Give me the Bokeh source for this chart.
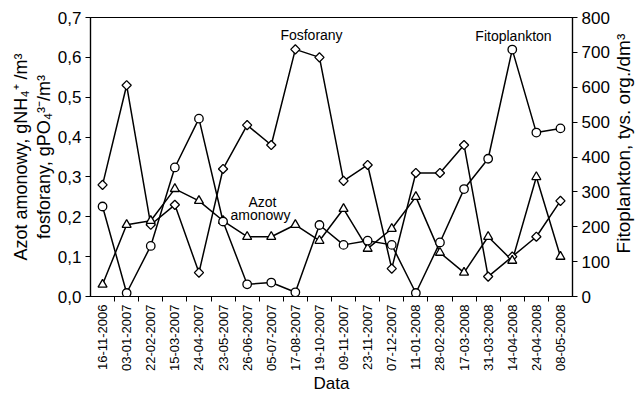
import numpy as np
from bokeh.plotting import figure
from bokeh.layouts import row
from bokeh.core.properties import value
from bokeh.models import (Range1d, LinearAxis, FixedTicker, CustomJSTickFormatter,
                          Label, ColumnDataSource)
from bokeh.embed import file_html
from bokeh.resources import INLINE

# Sampling dates
dates = ["16-11-2006", "03-01-2007", "22-02-2007", "15-03-2007", "24-04-2007",
         "23-05-2007", "26-06-2007", "05-07-2007", "17-08-2007", "19-10-2007",
         "09-11-2007", "23-11-2007", "07-12-2007", "11-01-2008", "28-02-2008",
         "17-03-2008", "31-03-2008", "14-04-2008", "24-04-2008", "08-05-2008"]

# Phosphates, g PO4/m3 (left axis)
fosforany = [0.28, 0.53, 0.18, 0.23, 0.06, 0.32, 0.43, 0.38, 0.62, 0.60,
             0.29, 0.33, 0.07, 0.31, 0.31, 0.38, 0.05, 0.10, 0.15, 0.24]

# Ammonium nitrogen, g NH4/m3 (left axis)
azot = [0.03, 0.18, 0.19, 0.27, 0.24, 0.19, 0.15, 0.15, 0.18, 0.14,
        0.22, 0.12, 0.17, 0.25, 0.11, 0.06, 0.15, 0.09, 0.30, 0.10]

# Phytoplankton, thousand org./dm3 (right axis)
fito = [258, 10, 145, 370, 510, 215, 35, 40, 12, 205,
        148, 160, 148, 10, 155, 308, 395, 708, 470, 482]

left_ticks = [0.0, 0.1, 0.2, 0.3, 0.4, 0.5, 0.6, 0.7]
right_ticks = [0, 100, 200, 300, 400, 500, 600, 700, 800]
right_title = "Fitoplankton, tys. org./dm³"

FONT = "Liberation Sans"
W, H = 642, 396
STRIP_W = 30                      # narrow strip holding the right-hand title
MAIN_W = W - STRIP_W
B_LEFT, B_RIGHT, B_TOP, B_BOTTOM = 90, 40, 17, 100
n = len(dates)
idx = list(range(n))

src = ColumnDataSource(dict(x=idx, fos=fosforany, azot=azot, fito=fito))

p = figure(width=MAIN_W, height=H, output_backend="svg", toolbar_location=None,
           x_range=Range1d(-0.5, n - 0.5), y_range=Range1d(0, 0.7),
           min_border_left=B_LEFT, min_border_right=B_RIGHT,
           min_border_top=B_TOP, min_border_bottom=B_BOTTOM)
p.extra_y_ranges = {"fito": Range1d(0, 800)}
p.xgrid.visible = False
p.ygrid.visible = False
p.outline_line_color = "black"
p.outline_line_width = 1.2
p.background_fill_color = "white"
p.border_fill_color = "white"

# x axis: dates at the points, short ticks between them
xa = p.xaxis[0]
xa.ticker = FixedTicker(ticks=idx, minor_ticks=[i + 0.5 for i in range(n - 1)])
xa.major_label_overrides = {i: d for i, d in enumerate(dates)}
xa.major_label_orientation = np.pi / 2
xa.major_tick_out = 0
xa.major_tick_in = 0
xa.minor_tick_out = 5
xa.minor_tick_in = 0
xa.minor_tick_line_color = "black"
xa.major_label_standoff = 3
xa.major_label_text_font = FONT
xa.major_label_text_font_size = "13px"
xa.major_label_text_color = "black"
xa.axis_label = "Data"
xa.axis_label_text_font = FONT
xa.axis_label_text_font_size = "17px"
xa.axis_label_text_font_style = "normal"
xa.axis_label_text_color = "black"
xa.axis_label_standoff = 0
xa.axis_line_color = "black"
xa.axis_line_width = 1.2

# left axis with comma decimals
ya = p.yaxis[0]
ya.ticker = FixedTicker(ticks=left_ticks)
ya.formatter = CustomJSTickFormatter(code="return tick.toFixed(1).replace('.', ',');")
ya.axis_label = "fosforany, gPO₄³⁻/m³"
ya.axis_label_standoff = 1

# second line of the left title, on a bare outer axis
ya2 = LinearAxis(ticker=FixedTicker(ticks=[]), axis_line_color=None,
                 major_tick_line_color=None, minor_tick_line_color=None,
                 axis_label="Azot amonowy, gNH₄⁺ /m³", axis_label_standoff=0)
p.add_layout(ya2, "left")

# right axis for phytoplankton (its title sits in the strip beside the plot)
ra = LinearAxis(y_range_name="fito", ticker=FixedTicker(ticks=right_ticks))
p.add_layout(ra, "right")

for ax in (ya, ra):
    ax.major_tick_out = 5
    ax.major_tick_in = 0
    ax.minor_tick_line_color = None
    ax.major_label_standoff = 4
    ax.major_label_text_font = FONT
    ax.major_label_text_font_size = "17px"
    ax.major_label_text_color = "black"
    ax.axis_line_color = "black"
    ax.axis_line_width = 1.2
    ax.major_tick_line_color = "black"

for ax in (ya, ya2):
    ax.axis_label_text_font = FONT
    ax.axis_label_text_font_size = "18px"
    ax.axis_label_text_font_style = "normal"
    ax.axis_label_text_color = "black"


# helpers converting canvas pixels to data coordinates of the main ranges
def px_x(sx):
    return -0.5 + (sx - B_LEFT) * n / (MAIN_W - B_LEFT - B_RIGHT)


def px_y(sy):
    return 0.7 * (H - B_BOTTOM - sy) / (H - B_TOP - B_BOTTOM)


# series lines
lw = 1.5
p.line("x", "fos", source=src, line_color="black", line_width=lw)
p.line("x", "azot", source=src, line_color="black", line_width=lw)
p.line("x", "fito", source=src, y_range_name="fito", line_color="black", line_width=lw)

# open markers
p.scatter("x", "fos", source=src, marker="square", angle=np.pi / 4, size=6.5,
          fill_color="white", line_color="black", line_width=1.3)
p.scatter("x", "azot", source=src, marker="triangle", size=9,
          fill_color="white", line_color="black", line_width=1.3)
p.scatter("x", "fito", source=src, y_range_name="fito", marker="circle", size=8.5,
          fill_color="white", line_color="black", line_width=1.3)

# series names inside the plot
name_kw = dict(text_align="center", text_baseline="middle", text_font=FONT,
               text_font_size="14px", text_color="black")
p.add_layout(Label(x=px_x(311), y=px_y(34), text="Fosforany", **name_kw))
p.add_layout(Label(x=px_x(513), y=px_y(35), text="Fitoplankton", **name_kw))
p.add_layout(Label(x=px_x(262), y=px_y(201), text="Azot", **name_kw))
p.add_layout(Label(x=px_x(260), y=px_y(214), text="amonowy", **name_kw))

# strip with the right-hand axis title, reading upwards; pixel coordinates
strip = figure(width=STRIP_W, height=H, output_backend="svg", toolbar_location=None,
               x_range=Range1d(0, STRIP_W), y_range=Range1d(H, 0),
               x_axis_location=None, y_axis_location=None, min_border=0)
strip.xgrid.visible = False
strip.ygrid.visible = False
strip.outline_line_color = None
strip.background_fill_color = "white"
strip.border_fill_color = "white"
strip.text(x=[11], y=[179], text=[right_title], angle=np.pi / 2,
           text_align="center", text_baseline="middle",
           text_font=value(FONT), text_font_size="19px", text_color="black")

layout = row(p, strip, spacing=0)
open("out.html", "w").write(file_html(layout, INLINE))
